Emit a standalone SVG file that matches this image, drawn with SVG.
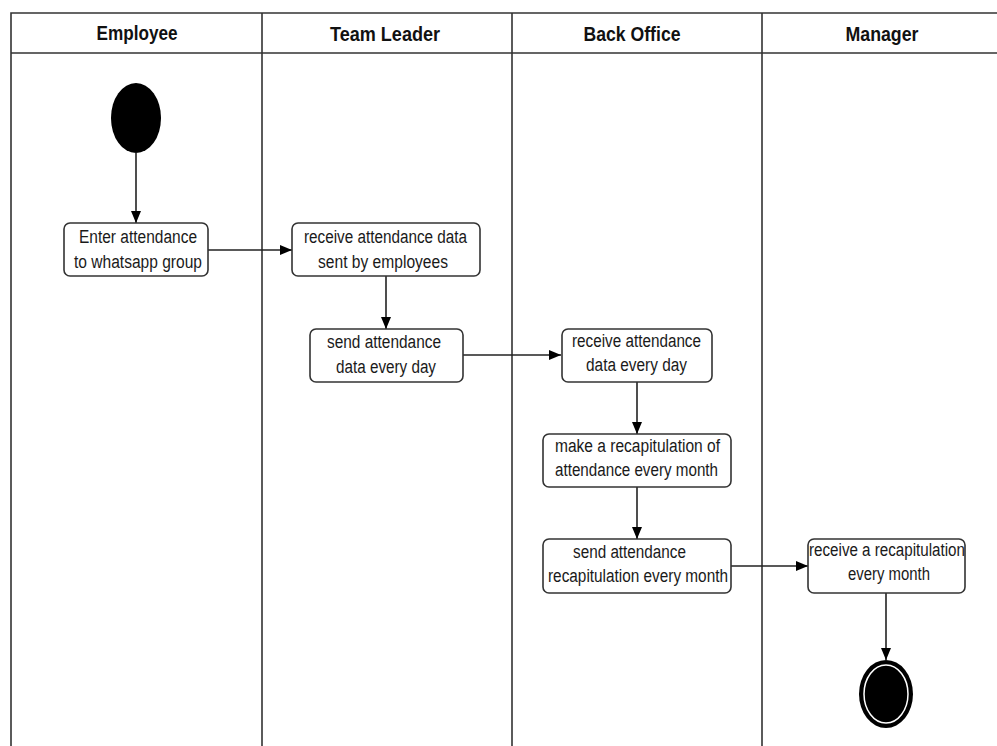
<svg xmlns="http://www.w3.org/2000/svg" width="997" height="746" viewBox="0 0 997 746">
<style>
.lane{fill:none;stroke:#333;stroke-width:1.6}
.hd{font-family:"Liberation Sans Narrow","Arial Narrow","Liberation Sans",sans-serif;font-size:20px;font-weight:bold;fill:#111;text-anchor:middle}
.box{fill:#fff;stroke:#333;stroke-width:1.6}
.t{font-family:"Liberation Sans Narrow","Arial Narrow","Liberation Sans",sans-serif;font-size:18px;fill:#1a1a1a;text-anchor:middle}
.cn{fill:none;stroke:#222;stroke-width:1.6;marker-end:url(#ah)}
</style>
<defs>
<marker id="ah" viewBox="0 0 12 10" refX="12" refY="5" markerWidth="12" markerHeight="10" markerUnits="userSpaceOnUse" orient="auto">
<path d="M0,0 L12,5 L0,10 Z" fill="#000"/>
</marker>
</defs>
<rect width="997" height="746" fill="#fff"/>
<g id="lanes">
<path class="lane" d="M11,746 V13 H997 M11,53 H997 M262,13 V746 M512,13 V746 M762,13 V746"/>
<text class="hd" x="137" y="40" textLength="81" lengthAdjust="spacingAndGlyphs">Employee</text>
<text class="hd" x="385" y="41" textLength="110" lengthAdjust="spacingAndGlyphs">Team Leader</text>
<text class="hd" x="632" y="41" textLength="97" lengthAdjust="spacingAndGlyphs">Back Office</text>
<text class="hd" x="882" y="41" textLength="73" lengthAdjust="spacingAndGlyphs">Manager</text>
</g>
<g id="connectors">
<path class="cn" d="M136,153 V223"/>
<path class="cn" d="M208,250 H292"/>
<path class="cn" d="M386,276 V329"/>
<path class="cn" d="M463,355 H561"/>
<path class="cn" d="M637,382 V434"/>
<path class="cn" d="M637,487 V539"/>
<path class="cn" d="M731,566 H808"/>
<path class="cn" d="M886,593 V660"/>
</g>
<g id="start">
<ellipse cx="136" cy="118" rx="25" ry="35" fill="#000"/>
</g>
<g id="n1">
<rect class="box" x="64" y="223" width="144" height="53" rx="6"/>
<text class="t" x="138" y="243" textLength="118" lengthAdjust="spacingAndGlyphs">Enter attendance</text>
<text class="t" x="138" y="268" textLength="128" lengthAdjust="spacingAndGlyphs">to whatsapp group</text>
</g>
<g id="n2">
<rect class="box" x="292" y="223" width="188" height="53" rx="6"/>
<text class="t" x="385.5" y="243" textLength="163" lengthAdjust="spacingAndGlyphs">receive attendance data</text>
<text class="t" x="383" y="268" textLength="130" lengthAdjust="spacingAndGlyphs">sent by employees</text>
</g>
<g id="n3">
<rect class="box" x="310" y="329" width="153" height="53" rx="6"/>
<text class="t" x="384" y="348" textLength="114" lengthAdjust="spacingAndGlyphs">send attendance</text>
<text class="t" x="386" y="373" textLength="100" lengthAdjust="spacingAndGlyphs">data every day</text>
</g>
<g id="n4">
<rect class="box" x="562" y="329" width="150" height="53" rx="6"/>
<text class="t" x="636.5" y="347" textLength="129" lengthAdjust="spacingAndGlyphs">receive attendance</text>
<text class="t" x="636.5" y="371" textLength="101" lengthAdjust="spacingAndGlyphs">data every day</text>
</g>
<g id="n5">
<rect class="box" x="543" y="434" width="188" height="53" rx="6"/>
<text class="t" x="637.5" y="452" textLength="165" lengthAdjust="spacingAndGlyphs">make a recapitulation of</text>
<text class="t" x="636.5" y="476" textLength="163" lengthAdjust="spacingAndGlyphs">attendance every month</text>
</g>
<g id="n6">
<rect class="box" x="543" y="539" width="188" height="54" rx="6"/>
<text class="t" x="629.5" y="558" textLength="113" lengthAdjust="spacingAndGlyphs">send attendance</text>
<text class="t" x="638" y="582" textLength="180" lengthAdjust="spacingAndGlyphs">recapitulation every month</text>
</g>
<g id="n7">
<rect class="box" x="808" y="539" width="157" height="54" rx="6"/>
<text class="t" x="887" y="556" textLength="156" lengthAdjust="spacingAndGlyphs">receive a recapitulation</text>
<text class="t" x="889" y="580" textLength="82" lengthAdjust="spacingAndGlyphs">every month</text>
</g>
<g id="end">
<ellipse cx="886" cy="694" rx="27" ry="34" fill="#000"/>
<ellipse cx="886" cy="694" rx="22" ry="29" fill="#000" stroke="#fff" stroke-width="1.5"/>
</g>
</svg>
